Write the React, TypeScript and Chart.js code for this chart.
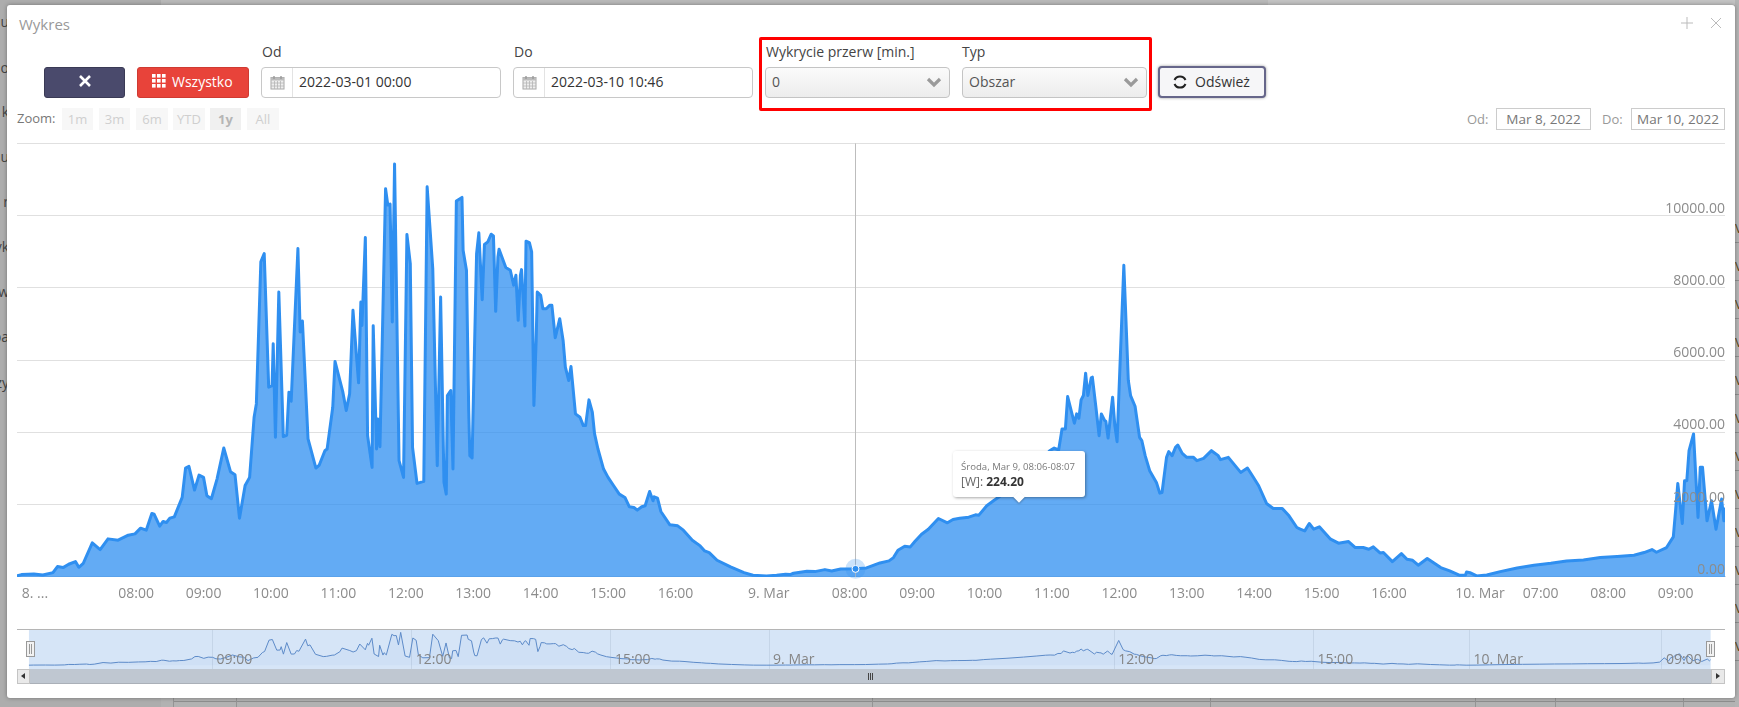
import React, { useEffect, useRef } from "react";
import { Chart, registerables } from "chart.js";

Chart.register(...registerables);

// Minutes along the gap-free (ordinal) time axis, starting with the first sample of Mar 8.
const sampleMinutes = [
  0,4,10,15,23,32,36,41,46,52,55,59,67,74,81,90,99,105,110,115,120,122,127,130,133,136,140,147,150,153,158,162,166,169,173,178,184,190,194,198,203,207,211,213,217,220,224,227,228,230,233,237,240,242,244,250,252,254,259,266,269,274,276,281,283,290,293,296,299,304,306,307,310,312,316,317,320,321,323,328,330,332,334,336,340,344,347,350,352,356,362,365,370,374,377,380,382,383,386,388,391,396,397,400,402,403,405,409,411,414,416,419,422,424,426,428,429,435,439,442,444,446,448,449,452,453,456,458,460,462,463,466,468,471,474,476,479,483,486,488,491,493,497,501,504,506,509,512,514,517,522,526,531,536,541,545,549,552,556,559,563,566,567,570,573,581,588,593,601,608,612,616,623,635,647,655,667,676,684,688,691,703,710,719,725,733,746,756,768,776,780,784,790,795,799,805,811,820,828,833,839,847,853,856,863,869,884,899,911,919,923,927,930,933,935,941,943,945,947,949,951,953,956,957,960,963,965,968,969,971,975,977,979,985,989,991,995,999,1001,1004,1008,1014,1017,1019,1023,1025,1028,1031,1033,1037,1041,1047,1050,1056,1063,1069,1071,1078,1089,1095,1100,1105,1112,1118,1126,1132,1139,1142,1146,1150,1154,1159,1169,1176,1185,1191,1198,1203,1207,1213,1216,1224,1232,1237,1242,1247,1255,1267,1275,1284,1289,1290,1293,1299,1308,1320,1335,1350,1365,1379,1394,1409,1424,1439,1448,1455,1459,1468,1474,1476,1478,1482,1484,1486,1488,1492,1496,1498,1500,1504,1508,1512,1517,1519,1520,
];
const powerW = [
  28,65,74,83,55,120,287,259,351,425,268,379,943,758,1054,1017,1156,1193,1350,1295,1757,1738,1406,1535,1507,1627,1664,2201,3014,3061,2404,2820,2756,2247,2164,2709,3569,2913,2830,1627,2534,2756,4420,4790,8720,8951,5252,5298,6454,3865,7888,3884,3921,5114,4864,9090,6778,7083,3819,3014,3098,3495,3542,4697,5964,5114,4605,5067,7379,5372,7610,6963,9395,3911,3033,6954,3542,4374,3606,10745,10292,10320,7055,11429,3218,2756,9478,8674,3588,2589,2645,10800,8535,3079,7749,2617,2293,5021,5160,2987,10403,10505,9044,8489,4605,3357,3292,8951,9524,7675,9201,9275,9487,9441,7351,8859,9071,8563,8489,8073,8350,7102,8350,8507,6944,9293,9256,8997,4744,6547,7888,7795,7425,7425,7518,7518,6621,7148,6547,5807,5437,5826,4513,4420,4189,4189,4901,4559,3958,3542,2987,2756,2524,2293,2201,1942,1923,1849,1942,1970,2367,2108,2219,2182,1812,1443,1415,1295,1017,860,721,675,462,277,120,46,28,46,74,65,102,157,148,203,166,222,224.2,250,388,444,536,740,851,832,980,1184,1322,1618,1498,1590,1627,1655,1720,1711,1970,2108,2432,2848,3218,3495,3569,3514,4096,4096,4993,4254,4513,4392,4901,5021,5641,5021,5511,5530,4744,3911,4513,4328,4309,3847,4975,4189,3745,8627,5437,5021,4725,3865,3773,3357,2941,2617,2321,2339,3310,3468,3357,3588,3652,3421,3310,3310,3218,3283,3495,3357,3246,3310,2894,3014,2774,2524,2034,1896,1896,1692,1369,1322,1276,1480,1322,1387,1045,934,980,814,814,767,832,666,675,425,647,490,462,324,509,259,166,46,55,139,120,28,55,148,250,324,379,444,472,536,564,601,675,758,684,814,1110,1831,2589,1480,2663,2663,3495,3958,1646,3033,3033,1553,2108,1322,2155,1553,1923,
];

const tickMinutes = [16,106,166,226,286,346,406,466,526,586,669,741,801,861,921,981,1041,1101,1161,1221,1302,1356,1416,1476];
const tickLabels = ["8. ...","08:00","09:00","10:00","11:00","12:00","13:00","14:00","15:00","16:00","9. Mar","08:00","09:00","10:00","11:00","12:00","13:00","14:00","15:00","16:00","10. Mar","07:00","08:00","09:00"];
const navTickMinutes = [166,346,526,669,981,1161,1302,1476];
const navTickLabels = ["09:00","12:00","15:00","9. Mar","12:00","15:00","10. Mar","09:00"];
const hoverMinute = 746;
const hoverValue = 224.2;
const yMax = 12000;
const yStep = 2000;

const FONT = "'Open Sans', sans-serif";
const GRID = "#e0e0e0";
const TEXT = "#8c8c8c";
const LINE = "#2f8ff0";
const FILL = "rgba(47,143,240,0.75)";

const crosshairPlugin = {
  id: "crosshair",
  afterDatasetsDraw(chart: any) {
    const { ctx, chartArea, scales } = chart;
    const x = Math.round(scales.x.getPixelForValue(hoverMinute)) + 0.5;
    const y = scales.y.getPixelForValue(hoverValue);
    ctx.save();
    ctx.strokeStyle = "#bdbdbd";
    ctx.lineWidth = 1;
    ctx.beginPath();
    ctx.moveTo(x, chartArea.top);
    ctx.lineTo(x, chartArea.bottom);
    ctx.stroke();
    ctx.fillStyle = "rgba(47,143,240,0.25)";
    ctx.beginPath();
    ctx.arc(x, y, 10, 0, Math.PI * 2);
    ctx.fill();
    ctx.fillStyle = LINE;
    ctx.strokeStyle = "#ffffff";
    ctx.beginPath();
    ctx.arc(x, y, 3.5, 0, Math.PI * 2);
    ctx.fill();
    ctx.stroke();
    ctx.restore();
  },
};

const navigatorPlugin = {
  id: "navigatorDecor",
  beforeDraw(chart: any) {
    const { ctx, chartArea, scales } = chart;
    const a = scales.x.getPixelForValue(sampleMinutes[0]);
    const b = scales.x.getPixelForValue(sampleMinutes[sampleMinutes.length - 1]);
    ctx.save();
    ctx.fillStyle = "#d6e5f7";
    ctx.fillRect(a, chartArea.top, b - a, chartArea.bottom - chartArea.top);
    ctx.restore();
  },
  afterDatasetsDraw(chart: any) {
    const { ctx, scales } = chart;
    ctx.save();
    ctx.font = `14px ${FONT}`;
    ctx.fillStyle = "#858585";
    ctx.textAlign = "left";
    ctx.textBaseline = "middle";
    navTickMinutes.forEach((m, i) => {
      ctx.fillText(navTickLabels[i], scales.x.getPixelForValue(m) + 4, 35);
    });
    ctx.restore();
  },
};

function MainChart() {
  const ref = useRef<HTMLCanvasElement>(null);
  useEffect(() => {
    const chart = new Chart(ref.current!, {
      type: "line",
      data: {
        datasets: [{
          data: sampleMinutes.map((x, i) => ({ x, y: powerW[i] })),
          borderColor: LINE,
          backgroundColor: FILL,
          borderWidth: 3,
          pointRadius: 0,
          tension: 0,
          fill: "origin",
          borderJoinStyle: "round",
        }],
      },
      options: {
        animation: false,
        responsive: false,
        devicePixelRatio: 1,
        layout: { padding: { left: 7, right: 10, top: 8.15, bottom: 0 } },
        plugins: { legend: { display: false }, tooltip: { enabled: false } },
        events: [],
        scales: {
          x: {
            type: "linear",
            min: sampleMinutes[0],
            max: sampleMinutes[sampleMinutes.length - 1],
            grid: { display: false },
            border: { display: true, color: "#dcdcdc" },
            afterBuildTicks: (s: any) => { s.ticks = tickMinutes.map((value) => ({ value })); },
            afterFit: (s: any) => { s.height = 28.05; },
            ticks: {
              autoSkip: false,
              maxRotation: 0,
              padding: 0.5,
              color: TEXT,
              font: { family: FONT, size: 14 },
              callback: (_v: any, i: number) => tickLabels[i],
            },
          },
          y: {
            position: "right",
            min: 0,
            max: yMax,
            grid: { color: GRID, drawTicks: false },
            border: { display: false },
            afterFit: (s: any) => { s.width = 0; },
            ticks: {
              stepSize: yStep,
              mirror: true,
              padding: 0,
              labelOffset: -7,
              z: 1,
              color: TEXT,
              font: { family: FONT, size: 14 },
              callback: (v: any) => (v === yMax ? "" : Number(v).toFixed(2)),
            },
          },
        },
      } as any,
      plugins: [crosshairPlugin],
    });
    return () => chart.destroy();
  }, []);
  return <canvas ref={ref} width={1725} height={470} style={{ position: "absolute", left: 10, top: 135, display: "block" }} />;
}

function NavigatorChart() {
  const ref = useRef<HTMLCanvasElement>(null);
  useEffect(() => {
    const chart = new Chart(ref.current!, {
      type: "line",
      data: {
        datasets: [{
          data: sampleMinutes.map((x, i) => ({ x, y: powerW[i] })),
          borderColor: "#5d8bc9",
          backgroundColor: "rgba(50,110,200,0.04)",
          borderWidth: 1,
          pointRadius: 0,
          tension: 0,
          fill: "origin",
        }],
      },
      options: {
        animation: false,
        responsive: false,
        devicePixelRatio: 1,
        layout: { padding: { left: 7, right: 10, top: 4, bottom: 4 } },
        plugins: { legend: { display: false }, tooltip: { enabled: false } },
        events: [],
        scales: {
          x: {
            type: "linear",
            min: -10.8,
            max: 1533,
            border: { display: false },
            grid: { color: "#c5d5e8", drawTicks: false },
            afterBuildTicks: (s: any) => { s.ticks = navTickMinutes.map((value) => ({ value })); },
            afterFit: (s: any) => { s.height = 0; },
            ticks: { display: false },
          },
          y: { display: false, min: -1300, max: 12600 },
        },
      } as any,
      plugins: [navigatorPlugin],
    });
    return () => chart.destroy();
  }, []);
  return <canvas ref={ref} width={1725} height={48} style={{ position: "absolute", left: 10, top: 625, display: "block" }} />;
}

const box = (left: number, top: number, width: number, height: number, extra: React.CSSProperties = {}): React.CSSProperties => ({
  position: "absolute", left, top, width, height, boxSizing: "border-box", ...extra,
});

function Label({ x, y, children, style }: any) {
  return <div style={{ position: "absolute", left: x, top: y - 10, height: 20, lineHeight: "20px", whiteSpace: "nowrap", fontSize: 14, color: "#444", ...style }}>{children}</div>;
}

function CalendarIcon({ x }: { x: number }) {
  return (
    <svg width={15} height={15} viewBox="0 0 15 15" style={{ position: "absolute", left: x, top: 75 }}>
      <rect x={1} y={2.5} width={13} height={11.5} fill="#eee" stroke="#a8a8a8" />
      <rect x={1} y={2.5} width={13} height={3} fill="#bbb" />
      <path d="M1 8h13M1 11h13M4.5 6v8M7.5 6v8M10.5 6v8" stroke="#b5b5b5" strokeWidth={0.8} />
      <path d="M4 1v3M11 1v3" stroke="#999" strokeWidth={1.4} />
    </svg>
  );
}

function DateInput({ x, text }: { x: number; text: string }) {
  return (
    <>
      <div style={box(x, 67, 240, 31, { background: "#fff", border: "1px solid #c8c8c8", borderRadius: 4 })} />
      <div style={box(x + 31, 68, 1, 29, { background: "#e3e3e3" })} />
      <CalendarIcon x={x + 9} />
      <Label x={x + 38} y={81.5} style={{ color: "#333" }}>{text}</Label>
    </>
  );
}

function SelectBox({ x, text }: { x: number; text: string }) {
  return (
    <>
      <div style={box(x, 67, 185, 31, { background: "linear-gradient(#fbfbfb,#ececec)", border: "1px solid #c4c4c4", borderRadius: 4 })} />
      <Label x={x + 7} y={81.5} style={{ color: "#555" }}>{text}</Label>
      <svg width={16} height={11} viewBox="0 0 16 11" style={{ position: "absolute", left: x + 161, top: 77 }}>
        <path d="M2 2l6 6 6-6" fill="none" stroke="#9a9a9a" strokeWidth={3.2} />
      </svg>
    </>
  );
}

function RangeButton({ x, w, text, bold }: { x: number; w: number; text: string; bold?: boolean }) {
  return (
    <div style={box(x, 108, w, 22, { background: bold ? "#f0f0f0" : "#f7f7f7", color: bold ? "#b5b5b5" : "#cfcfcf", fontSize: 13, fontWeight: bold ? 700 : 400, textAlign: "center", lineHeight: "22px" })}>{text}</div>
  );
}

const leftScraps = [["u", 22], ["o", 68], ["k", 112], ["u", 157], ["r", 202], ["vk", 247], ["w", 292], ["pa", 337], ["zy", 383]] as const;
const rightRowsY = [228, 266, 304, 342, 380, 418, 456, 494, 532, 570, 608, 646];
const bottomColumnsX = [173, 236, 872, 1210, 1475, 1555, 1683];

function Backdrop() {
  return (
    <>
      <div style={box(0, 0, 1739, 707, { background: "#adadad" })} />
      <div style={box(161, 0, 1107, 5, { background: "#b9b9b9" })} />
      <div style={box(1268, 0, 471, 5, { background: "#c3c3c3" })} />
      <div style={box(161, 698, 1578, 9, { background: "#b2b2b2" })} />
      <div style={box(174, 701, 1565, 1, { background: "#8f8f8f" })} />
      {bottomColumnsX.map((x) => <div key={x} style={box(x, 698, 1, 9, { background: "#949494" })} />)}
      <div style={box(1735, 0, 4, 707, { background: "#b4b4b4" })} />
      {leftScraps.map(([t, y], i) => (
        <div key={i} style={{ position: "absolute", right: 1739 - 9, top: y - 10, lineHeight: "20px", fontSize: 14, color: "#444", whiteSpace: "nowrap" }}>{t}</div>
      ))}
      {rightRowsY.map((y) => (
        <React.Fragment key={y}>
          <div style={{ position: "absolute", left: 1735, top: y - 9, lineHeight: "18px", fontSize: 13, color: "#5a4520" }}>V</div>
          <div style={box(1735, y + 14, 4, 1, { background: "#8f8f8f" })} />
        </React.Fragment>
      ))}
    </>
  );
}

function Modal() {
  return (
    <div style={box(7, 5, 1728, 693, { background: "#fff", borderRadius: 3, boxShadow: "0 0 4px rgba(0,0,0,0.35)" })} />
  );
}

function Toolbar() {
  return (
    <>
      <Label x={19} y={24} style={{ fontSize: 15, color: "#999" }}>Wykres</Label>
      <svg width={14} height={14} viewBox="0 0 14 14" style={{ position: "absolute", left: 1680, top: 16 }}><path d="M7 1v12M1 7h12" stroke="#bbb" strokeWidth={1} /></svg>
      <svg width={14} height={14} viewBox="0 0 14 14" style={{ position: "absolute", left: 1709, top: 16 }}><path d="M2 2l10 10M12 2L2 12" stroke="#bbb" strokeWidth={1} /></svg>

      <div style={box(44, 67, 81, 31, { background: "#4a4a6c", border: "1px solid #3a3a55", borderRadius: 3 })} />
      <svg width={14} height={14} viewBox="0 0 14 14" style={{ position: "absolute", left: 78, top: 74 }}><path d="M2 2l10 10M12 2L2 12" stroke="#fff" strokeWidth={2.6} /></svg>

      <div style={box(137, 67, 112, 31, { background: "#e8433a", border: "1px solid #cf3a32", borderRadius: 3 })} />
      <svg width={14} height={14} viewBox="0 0 14 14" style={{ position: "absolute", left: 152, top: 74 }}>
        {[0, 5, 10].flatMap((a) => [0, 5, 10].map((b) => <rect key={`${a}-${b}`} x={a} y={b} width={3.6} height={3.6} fill="#fff" />))}
      </svg>
      <Label x={172} y={82} style={{ color: "#fff" }}>Wszystko</Label>

      <Label x={262} y={52}>Od</Label>
      <DateInput x={261} text="2022-03-01 00:00" />
      <Label x={514} y={52}>Do</Label>
      <DateInput x={513} text="2022-03-10 10:46" />

      <div style={box(759, 37, 393, 74, { border: "3px solid #f00", borderRadius: 2 })} />
      <Label x={766} y={52}>Wykrycie przerw [min.]</Label>
      <SelectBox x={765} text="0" />
      <Label x={962} y={52}>Typ</Label>
      <SelectBox x={962} text="Obszar" />

      <div style={box(1158, 66, 108, 32, { background: "#f6f6f8", border: "2px solid #66668a", borderRadius: 4, boxShadow: "0 0 3px #999" })} />
      <svg width={18} height={18} viewBox="0 0 18 18" style={{ position: "absolute", left: 1171, top: 73 }}>
        <path d="M3.5 7a6 6 0 0 1 11 0M14.5 11a6 6 0 0 1-11 0" fill="none" stroke="#222" strokeWidth={2} />
      </svg>
      <Label x={1195} y={82} style={{ color: "#333", fontWeight: 500 }}>Odśwież</Label>

      <Label x={17} y={118} style={{ fontSize: 13, color: "#777" }}>Zoom:</Label>
      <RangeButton x={62} w={31} text="1m" />
      <RangeButton x={99} w={31} text="3m" />
      <RangeButton x={136} w={32} text="6m" />
      <RangeButton x={173} w={32} text="YTD" />
      <RangeButton x={210} w={31} text="1y" bold />
      <RangeButton x={247} w={32} text="All" />

      <Label x={1467} y={119} style={{ fontSize: 13, color: "#999" }}>Od:</Label>
      <div style={box(1496, 108, 95, 22, { border: "1px solid #ccc", fontSize: 13.5, color: "#777", textAlign: "center", lineHeight: "20px" })}>Mar 8, 2022</div>
      <Label x={1602} y={119} style={{ fontSize: 13, color: "#999" }}>Do:</Label>
      <div style={box(1631, 108, 94, 22, { border: "1px solid #ccc", fontSize: 13.5, color: "#777", textAlign: "center", lineHeight: "20px", whiteSpace: "nowrap" })}>Mar 10, 2022</div>
    </>
  );
}

function HoverTooltip() {
  return (
    <>
      <div style={box(953, 451, 132, 46, { background: "#fff", borderRadius: 3, boxShadow: "1px 1px 3px rgba(0,0,0,0.35)" })} />
      <div style={box(1015, 493, 8, 8, { background: "#fff", transform: "rotate(45deg)", boxShadow: "1px 1px 2px rgba(0,0,0,0.25)" })} />
      <div style={{ position: "absolute", left: 961, top: 459, lineHeight: "16px", fontSize: 9.6, color: "#7a7a7a", whiteSpace: "nowrap" }}>Środa, Mar 9, 08:06-08:07</div>
      <div style={{ position: "absolute", left: 961, top: 473, lineHeight: "18px", fontSize: 12, color: "#666", whiteSpace: "nowrap" }}>[W]: <b style={{ color: "#333" }}>{hoverValue.toFixed(2)}</b></div>
    </>
  );
}

function Triangle({ x, dir }: { x: number; dir: "l" | "r" }) {
  return (
    <div style={{ position: "absolute", left: x, top: 673, width: 0, height: 0, borderTop: "3.5px solid transparent", borderBottom: "3.5px solid transparent", ...(dir === "l" ? { borderRight: "4px solid #333" } : { borderLeft: "4px solid #333" }) }} />
  );
}

function NavigatorChrome() {
  const handle = (x: number) => (
    <React.Fragment key={x}>
      <div style={box(x, 641, 9, 16, { background: "#f2f2f2", border: "1px solid #999" })} />
      <div style={box(x + 3, 644, 1, 10, { background: "#999" })} />
      <div style={box(x + 5, 644, 1, 10, { background: "#999" })} />
    </React.Fragment>
  );
  return (
    <>
      <div style={box(17, 629, 1708, 1, { background: "#b5b5b5" })} />
      {handle(26)}
      {handle(1706)}
      <div style={box(17, 669, 1708, 15, { background: "#bfc7d1", borderBottom: "1px solid #aab0b8" })} />
      <div style={box(17, 669, 13, 15, { background: "#e9e9e9", border: "1px solid #c4c4c4" })} />
      <div style={box(1711, 669, 14, 15, { background: "#e9e9e9", border: "1px solid #c4c4c4" })} />
      <Triangle x={21} dir="l" />
      <Triangle x={1716} dir="r" />
      {[868, 870, 872].map((x) => <div key={x} style={box(x, 673, 1, 7, { background: "#444" })} />)}
    </>
  );
}

export default function App() {
  return (
    <div style={{ position: "absolute", left: 0, top: 0, width: 1739, height: 707, overflow: "hidden", fontFamily: FONT }}>
      <Backdrop />
      <Modal />
      <Toolbar />
      <MainChart />
      <NavigatorChart />
      <NavigatorChrome />
      <HoverTooltip />
    </div>
  );
}
